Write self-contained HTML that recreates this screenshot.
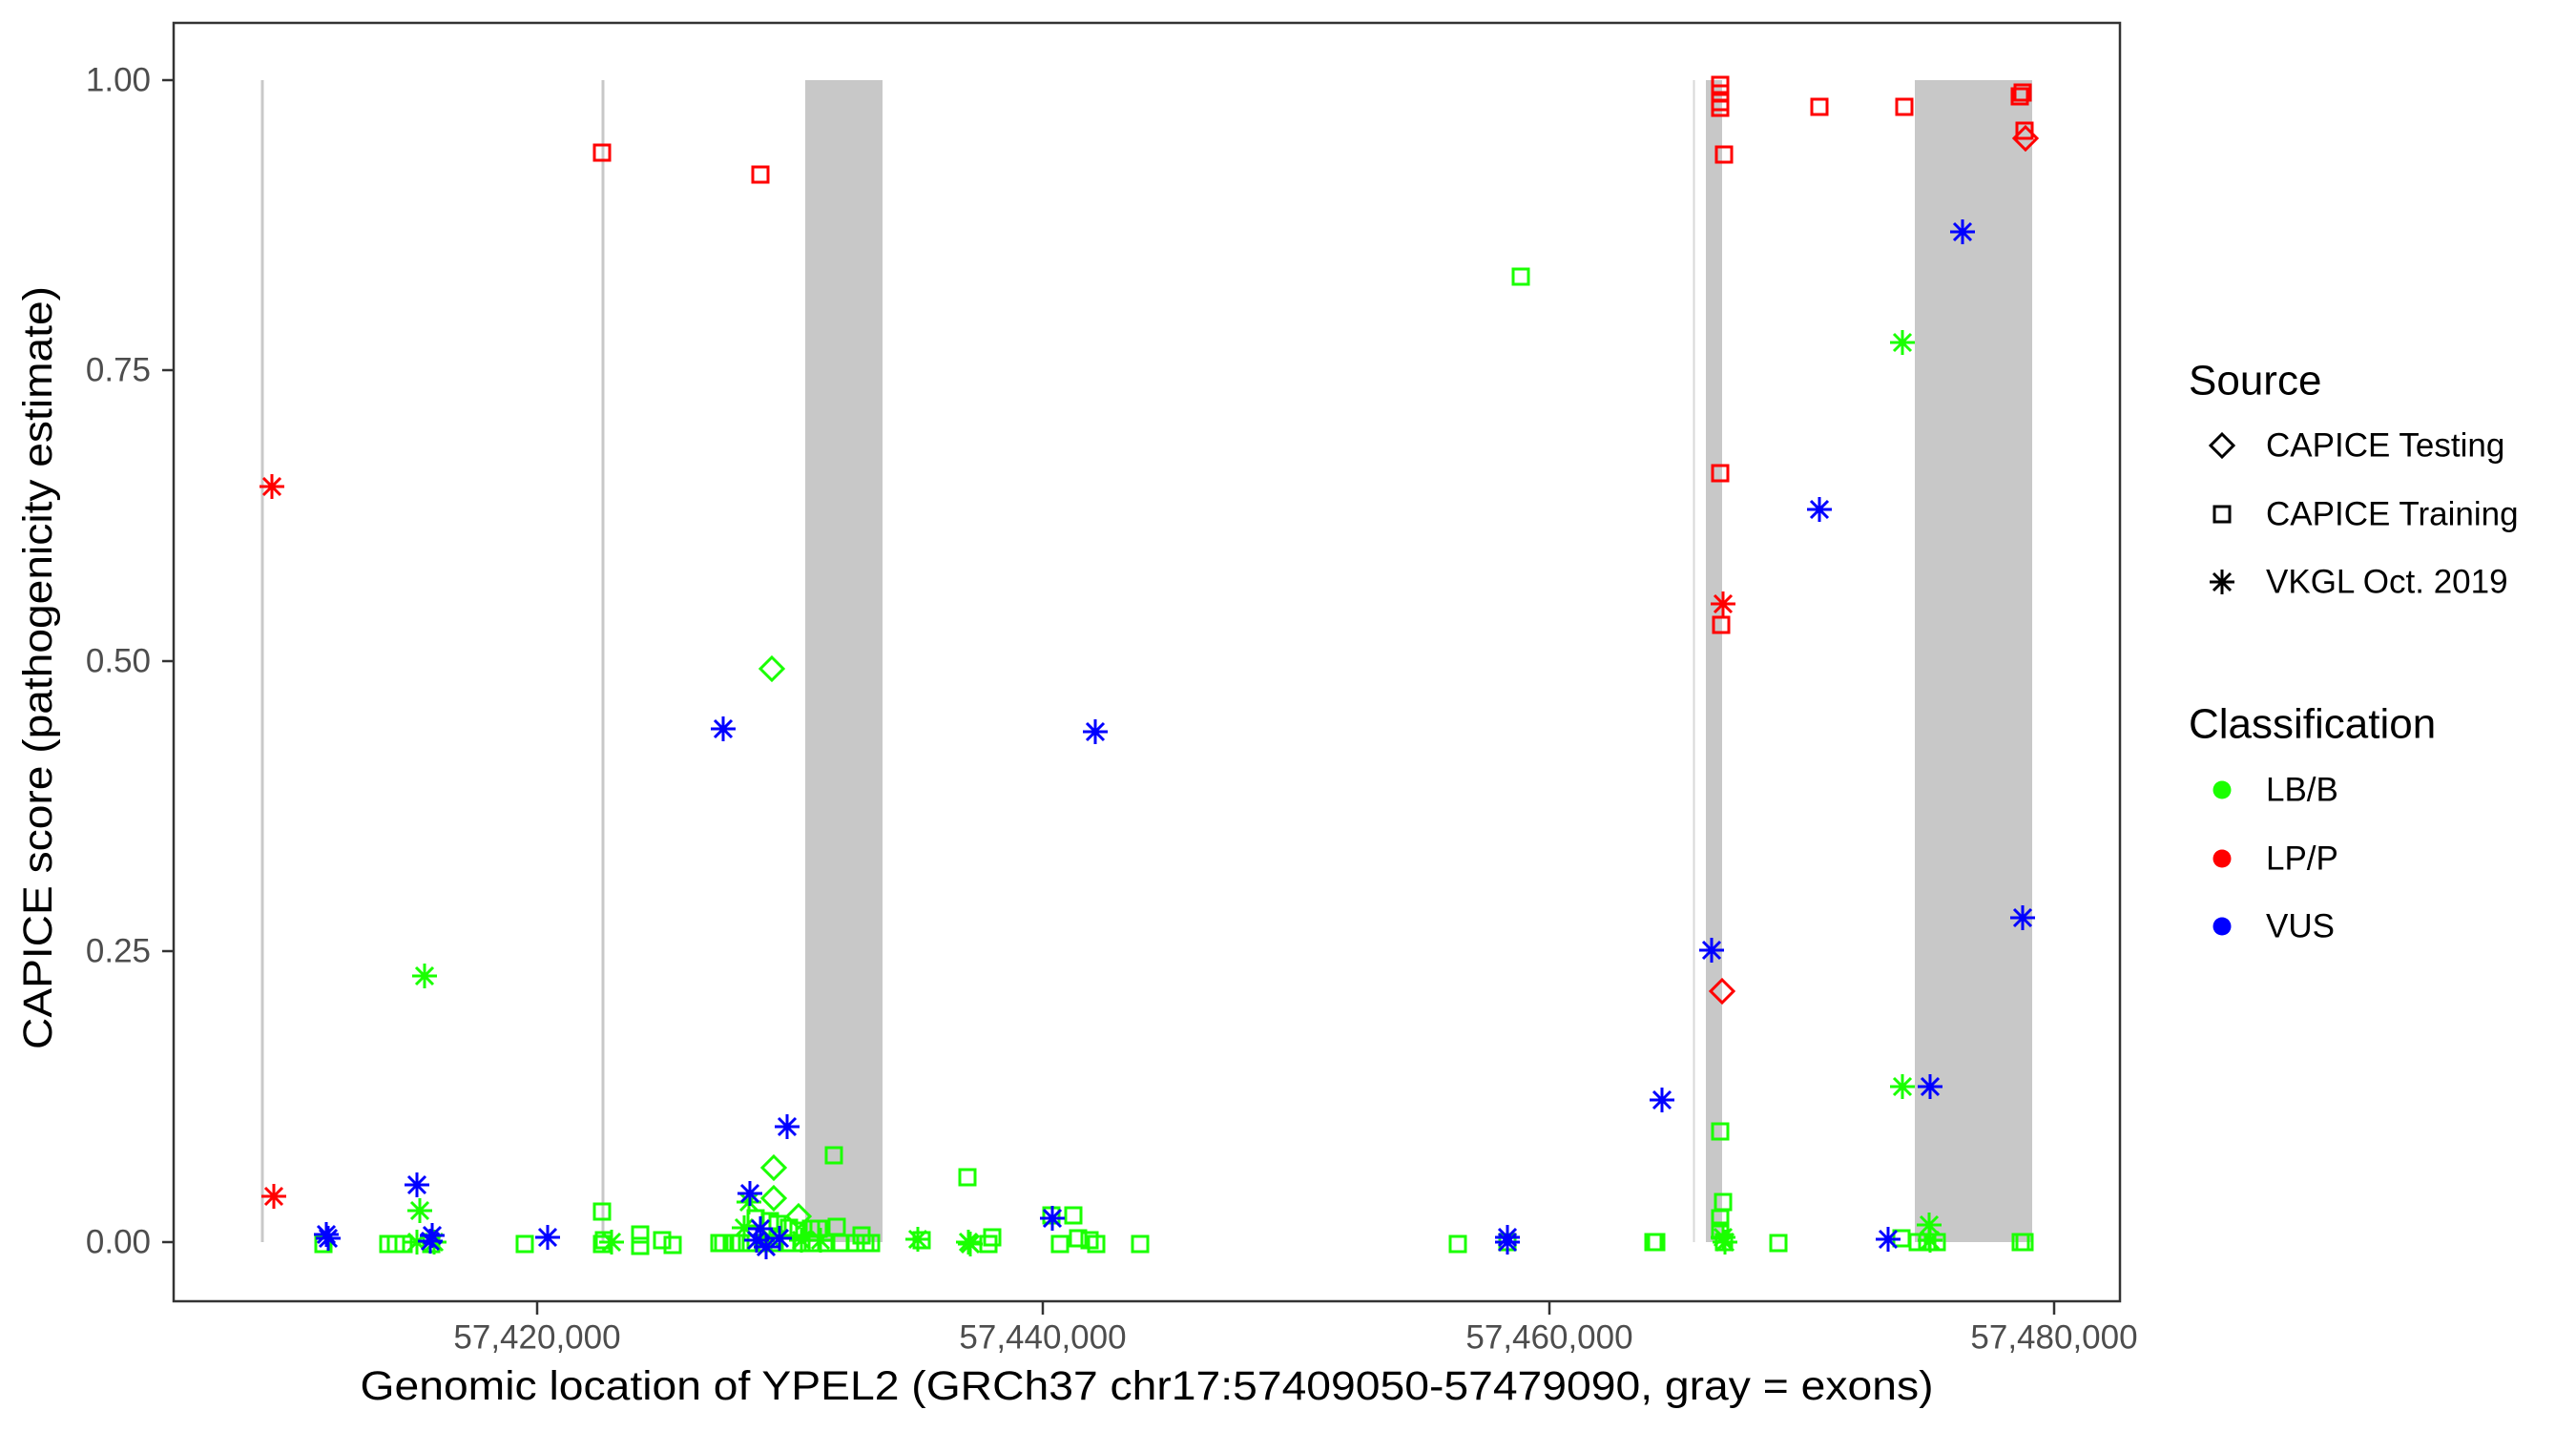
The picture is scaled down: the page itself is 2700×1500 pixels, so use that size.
<!DOCTYPE html>
<html><head><meta charset="utf-8"><style>
html,body{margin:0;padding:0;background:#fff;}
svg{display:block;font-family:"Liberation Sans",Arial,sans-serif;}
</style></head><body>
<svg width="2700" height="1500" viewBox="0 0 2700 1500" xmlns="http://www.w3.org/2000/svg">
<defs>
<rect id="sq" x="-8" y="-8" width="16" height="16" fill="none" stroke-width="3"/>
<path id="as" d="M-13 0H13M0 -13V13M-9 -9L9 9M-9 9L9 -9" fill="none" stroke-width="3"/>
<path id="dm" d="M0 -12L12 0L0 12L-12 0Z" fill="none" stroke-width="3"/>
</defs>
<rect x="0" y="0" width="2700" height="1500" fill="#fff"/>
<g fill="#c8c8c8">
<rect x="844" y="84" width="81" height="1218"/>
<rect x="1788" y="84" width="17" height="1218"/>
<rect x="2007" y="84" width="123" height="1218"/>
</g>
<line x1="275" y1="84" x2="275" y2="1302" stroke="#c8c8c8" stroke-width="3"/>
<line x1="632" y1="84" x2="632" y2="1302" stroke="#c8c8c8" stroke-width="3"/>
<line x1="1775.5" y1="84" x2="1775.5" y2="1302" stroke="#d8d8d8" stroke-width="2"/>

<g stroke="#1aff00">
<use href="#sq" x="339" y="1304"/><use href="#sq" x="407" y="1304"/><use href="#sq" x="415" y="1304"/><use href="#sq" x="423" y="1304"/>
<use href="#as" x="445" y="1023"/><use href="#as" x="440" y="1269"/><use href="#as" x="437" y="1302"/><use href="#as" x="455" y="1302"/><use href="#sq" x="452" y="1304"/>
<use href="#sq" x="550" y="1304"/>
<use href="#sq" x="631" y="1270"/><use href="#sq" x="631" y="1304"/><use href="#sq" x="633" y="1300"/><use href="#as" x="641" y="1302"/>
<use href="#sq" x="671" y="1294"/><use href="#sq" x="671" y="1306"/><use href="#sq" x="694" y="1300"/><use href="#sq" x="705" y="1305"/>
<use href="#sq" x="754" y="1303"/><use href="#sq" x="758" y="1303"/><use href="#sq" x="767" y="1303"/><use href="#sq" x="776" y="1303"/>
<use href="#sq" x="787" y="1303"/><use href="#sq" x="792" y="1277"/><use href="#sq" x="807" y="1280"/><use href="#sq" x="815" y="1283"/><use href="#sq" x="827" y="1287"/><use href="#sq" x="837" y="1290"/><use href="#sq" x="850" y="1288"/><use href="#sq" x="858" y="1288"/><use href="#sq" x="877" y="1286"/><use href="#sq" x="903" y="1295"/>
<use href="#sq" x="800" y="1303"/><use href="#sq" x="812" y="1303"/><use href="#sq" x="825" y="1303"/><use href="#sq" x="840" y="1303"/><use href="#sq" x="852" y="1303"/><use href="#sq" x="866" y="1303"/>
<use href="#sq" x="880" y="1303"/><use href="#sq" x="897" y="1303"/><use href="#sq" x="907" y="1303"/><use href="#sq" x="913" y="1303"/>
<use href="#sq" x="874" y="1211"/>
<use href="#dm" x="809" y="701"/><use href="#dm" x="811" y="1224"/><use href="#dm" x="811" y="1256"/><use href="#dm" x="837" y="1275"/>
<use href="#as" x="785" y="1260"/><use href="#as" x="780" y="1287"/><use href="#as" x="807" y="1297"/><use href="#as" x="840" y="1300"/><use href="#as" x="860" y="1300"/>
<use href="#as" x="962" y="1299"/><use href="#sq" x="966" y="1300"/><use href="#as" x="1017" y="1304"/><use href="#sq" x="1040" y="1297"/><use href="#sq" x="1036" y="1304"/>
<use href="#sq" x="1014" y="1234"/><use href="#as" x="1015" y="1302"/>
<use href="#sq" x="1102" y="1274"/><use href="#sq" x="1125" y="1274"/><use href="#sq" x="1111" y="1304"/><use href="#sq" x="1130" y="1298"/><use href="#sq" x="1142" y="1300"/><use href="#sq" x="1149" y="1304"/><use href="#sq" x="1195" y="1304"/>
<use href="#sq" x="1528" y="1304"/><use href="#sq" x="1580" y="1302"/>
<use href="#sq" x="1594" y="290"/>
<use href="#sq" x="1733" y="1302"/><use href="#sq" x="1736" y="1302"/>
<use href="#sq" x="1803" y="1186"/><use href="#sq" x="1806" y="1260"/><use href="#sq" x="1803" y="1277"/><use href="#sq" x="1803" y="1290"/><use href="#sq" x="1807" y="1302"/><use href="#as" x="1806" y="1297"/><use href="#as" x="1808" y="1302"/>
<use href="#sq" x="1864" y="1303"/>
<use href="#as" x="1994" y="359"/><use href="#as" x="1994" y="1139"/>
<use href="#sq" x="1993" y="1298"/><use href="#sq" x="2010" y="1302"/><use href="#sq" x="2020" y="1302"/><use href="#sq" x="2030" y="1302"/><use href="#as" x="2022" y="1284"/><use href="#as" x="2023" y="1300"/>
<use href="#sq" x="2118" y="1302"/><use href="#sq" x="2122" y="1302"/>
</g>
<g stroke="#ff0000">
<use href="#as" x="285" y="510"/><use href="#as" x="287" y="1254"/>
<use href="#sq" x="631" y="160"/><use href="#sq" x="797" y="183"/>
<use href="#sq" x="1803" y="89"/><use href="#sq" x="1803" y="98"/><use href="#sq" x="1803" y="107"/><use href="#sq" x="1803" y="113"/><use href="#sq" x="1807" y="162"/>
<use href="#sq" x="1907" y="112"/><use href="#sq" x="1996" y="112"/>
<use href="#sq" x="2120" y="97"/><use href="#sq" x="2117" y="101"/><use href="#sq" x="2122" y="137"/><use href="#dm" x="2123" y="145"/>
<use href="#sq" x="1803" y="496"/><use href="#as" x="1806" y="633"/><use href="#sq" x="1804" y="655"/><use href="#dm" x="1805" y="1039"/>
</g>
<g stroke="#0000ff">
<use href="#as" x="342" y="1294"/><use href="#as" x="344" y="1298"/>
<use href="#as" x="437" y="1242"/><use href="#as" x="451" y="1301"/><use href="#as" x="453" y="1295"/>
<use href="#as" x="574" y="1297"/>
<use href="#as" x="758" y="764"/><use href="#as" x="825" y="1181"/>
<use href="#as" x="786" y="1251"/><use href="#as" x="797" y="1288"/><use href="#as" x="793" y="1300"/><use href="#as" x="817" y="1298"/><use href="#as" x="803" y="1307"/>
<use href="#as" x="1103" y="1277"/><use href="#as" x="1148" y="767"/>
<use href="#as" x="1580" y="1302"/><use href="#as" x="1580" y="1297"/>
<use href="#as" x="1742" y="1153"/><use href="#as" x="1794" y="996"/>
<use href="#as" x="1907" y="534"/><use href="#as" x="2057" y="243"/>
<use href="#as" x="1979" y="1299"/><use href="#as" x="2023" y="1139"/><use href="#as" x="2120" y="962"/>
</g>

<rect x="182" y="24" width="2040" height="1340" fill="none" stroke="#333" stroke-width="2.5"/>
<g stroke="#333" stroke-width="2.5">
<line x1="170" y1="84" x2="182" y2="84"/><line x1="170" y1="388" x2="182" y2="388"/><line x1="170" y1="693" x2="182" y2="693"/><line x1="170" y1="997" x2="182" y2="997"/><line x1="170" y1="1302" x2="182" y2="1302"/>
<line x1="563" y1="1364" x2="563" y2="1378"/><line x1="1093" y1="1364" x2="1093" y2="1378"/><line x1="1624" y1="1364" x2="1624" y2="1378"/><line x1="2153" y1="1364" x2="2153" y2="1378"/>
</g>
<g fill="#4d4d4d" font-size="35" text-anchor="end" dominant-baseline="central">
<text x="158" y="84">1.00</text><text x="158" y="388">0.75</text><text x="158" y="693">0.50</text><text x="158" y="997">0.25</text><text x="158" y="1302">0.00</text>
</g>
<g fill="#4d4d4d" font-size="35" text-anchor="middle" dominant-baseline="central">
<text x="563" y="1402">57,420,000</text><text x="1093" y="1402">57,440,000</text><text x="1624" y="1402">57,460,000</text><text x="2153" y="1402">57,480,000</text>
</g>
<text x="1202" y="1453" font-size="43" text-anchor="middle" dominant-baseline="central" textLength="1649" lengthAdjust="spacingAndGlyphs">Genomic location of YPEL2 (GRCh37 chr17:57409050-57479090, gray = exons)</text>
<text transform="translate(40,700) rotate(-90)" font-size="43" text-anchor="middle" dominant-baseline="central" textLength="800" lengthAdjust="spacingAndGlyphs">CAPICE score (pathogenicity estimate)</text>

<text x="2294" y="399" font-size="44" dominant-baseline="central">Source</text>
<g stroke="#000">
<use href="#dm" x="2329" y="467"/>
<use href="#sq" x="2329" y="539"/>
<use href="#as" x="2329" y="610"/>
</g>
<g font-size="35" dominant-baseline="central">
<text x="2375" y="467">CAPICE Testing</text>
<text x="2375" y="539">CAPICE Training</text>
<text x="2375" y="610">VKGL Oct. 2019</text>
</g>
<text x="2294" y="759" font-size="44" dominant-baseline="central">Classification</text>
<circle cx="2329" cy="828" r="9.5" fill="#1aff00"/>
<circle cx="2329" cy="900" r="9.5" fill="#ff0000"/>
<circle cx="2329" cy="971" r="9.5" fill="#0000ff"/>
<g font-size="35" dominant-baseline="central">
<text x="2375" y="828">LB/B</text>
<text x="2375" y="900">LP/P</text>
<text x="2375" y="971">VUS</text>
</g>
</svg>
</body></html>
